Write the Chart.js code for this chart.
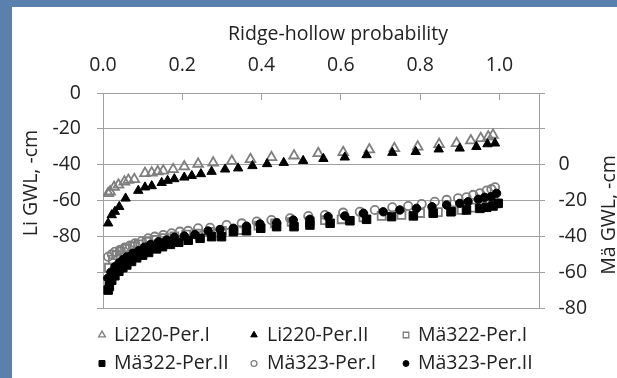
<!DOCTYPE html>
<html><head><meta charset="utf-8">
<script src="https://cdn.jsdelivr.net/npm/chart.js@4.4.1/dist/chart.umd.min.js"></script>
<style>
html,body{margin:0;padding:0;}
body{width:617px;height:378px;overflow:hidden;background:#5a80ae;position:relative;}
#panel{position:absolute;left:12px;top:7px;width:605px;height:371px;background:#fff;}
canvas{display:block;}
</style></head><body><div id="panel"><canvas id="c" width="605" height="371"></canvas></div>
<script>
// ---- data ----
const seriesNames = ['Li220-Per.I','Li220-Per.II','Mä322-Per.I','Mä322-Per.II','Mä323-Per.I','Mä323-Per.II'];

const li220P1x = [0.013,0.018,0.028,0.039,0.054,0.064,0.079,0.106,0.123,0.138,0.152,0.177,0.205,0.240,0.278,0.325,0.372,0.425,0.482,0.543,0.606,0.672,0.735,0.794,0.848,0.892,0.928,0.953,0.972,0.984];
const li220P1y = [-56.0,-55.1,-52.5,-51.3,-49.5,-48.6,-48.2,-44.8,-44.5,-43.9,-43.4,-42.6,-41.1,-39.6,-38.9,-38.0,-37.0,-35.9,-35.0,-33.7,-33.1,-31.6,-30.9,-30.0,-28.6,-28.1,-26.6,-25.3,-24.4,-23.4];

const li220P2x = [0.013,0.022,0.030,0.041,0.057,0.089,0.106,0.123,0.148,0.163,0.180,0.205,0.224,0.247,0.274,0.308,0.341,0.377,0.414,0.456,0.505,0.556,0.610,0.665,0.730,0.789,0.847,0.900,0.942,0.970,0.989];
const li220P2y = [-72.7,-68.1,-66.2,-63.5,-58.8,-54.5,-52.6,-51.9,-50.1,-48.9,-48.0,-47.1,-46.2,-45.2,-43.9,-42.6,-42.0,-40.7,-39.6,-38.9,-37.8,-36.7,-35.9,-34.6,-33.3,-32.8,-31.4,-30.9,-30.0,-28.5,-28.1];

const ma322P1x = [0.015,0.025,0.035,0.045,0.060,0.075,0.090,0.110,0.130,0.155,0.180,0.210,0.240,0.270,0.300,0.350,0.392,0.434,0.476,0.522,0.560,0.602,0.657,0.703,0.753,0.800,0.845,0.880,0.905,0.930,0.955,0.975,0.990];
const ma322P1y = [-57.5,-53.0,-50.5,-48.5,-47.0,-45.5,-44.5,-43.0,-42.0,-41.0,-40.0,-39.0,-38.5,-37.5,-37.0,-36.5,-34.0,-32.8,-32.0,-31.8,-31.0,-30.5,-29.4,-28.6,-28.1,-27.0,-26.5,-25.5,-25.3,-24.0,-23.0,-22.3,-21.6];

const ma322P2x = [0.013,0.016,0.022,0.030,0.040,0.050,0.060,0.072,0.085,0.100,0.115,0.135,0.150,0.170,0.191,0.215,0.245,0.274,0.299,0.329,0.362,0.398,0.438,0.482,0.522,0.573,0.623,0.665,0.728,0.783,0.833,0.878,0.917,0.951,0.968,0.984,0.997];
const ma322P2y = [-70.0,-68.0,-64.5,-62.0,-59.5,-57.5,-56.0,-54.0,-52.0,-50.5,-49.0,-47.0,-45.8,-44.5,-43.3,-42.2,-41.1,-40.2,-40.2,-37.4,-36.9,-35.5,-34.6,-34.6,-33.7,-32.7,-31.3,-30.5,-29.0,-28.6,-27.1,-26.3,-25.3,-24.4,-23.8,-23.1,-21.6];

const ma323P1x = [0.013,0.022,0.030,0.043,0.055,0.068,0.081,0.098,0.114,0.131,0.152,0.173,0.194,0.215,0.240,0.270,0.312,0.350,0.388,0.425,0.472,0.518,0.560,0.606,0.648,0.686,0.730,0.770,0.804,0.837,0.867,0.896,0.917,0.934,0.951,0.968,0.980,0.989];
const ma323P1y = [-51.4,-50.0,-48.6,-47.6,-46.3,-45.2,-43.9,-42.6,-41.1,-40.2,-39.3,-38.3,-37.4,-37.0,-35.5,-35.2,-33.7,-32.8,-31.8,-30.9,-29.9,-28.7,-28.1,-26.8,-26.3,-25.3,-23.8,-23.1,-22.0,-20.7,-19.7,-18.8,-18.2,-16.9,-16.0,-14.5,-13.7,-12.6];

const ma323P2x = [0.012,0.020,0.030,0.040,0.050,0.060,0.075,0.090,0.105,0.120,0.140,0.160,0.180,0.205,0.232,0.265,0.295,0.329,0.362,0.396,0.438,0.480,0.522,0.568,0.610,0.657,0.707,0.749,0.791,0.830,0.867,0.900,0.921,0.947,0.963,0.979,0.993];
const ma323P2y = [-63.4,-60.0,-57.0,-55.0,-53.0,-51.5,-49.5,-48.0,-46.0,-44.5,-43.0,-42.0,-40.5,-39.8,-39.0,-37.0,-36.2,-35.5,-34.3,-33.1,-32.4,-30.9,-30.5,-29.0,-28.6,-27.1,-26.3,-25.3,-24.4,-23.5,-22.5,-21.6,-20.7,-19.3,-18.2,-17.9,-16.0];

const xTicks = [0.0,0.2,0.4,0.6,0.8,1.0];
const liTicks = [0,-20,-40,-60,-80];
const maTicks = [0,-20,-40,-60,-80];

const xTitle = 'Ridge-hollow probability';
const liTitle = 'Li GWL, -cm';
const maTitle = 'Mä GWL, -cm';

// ---- styling ----
const FONT = '"Open Sans", "Liberation Sans", sans-serif';
const FS = 19.5;
const TXT = '#222222';
const GRID = '#a0a0a0';
const GREY = '#7f7f7f';

function pts(xs, ys){ return xs.map((x,i)=>({x:x, y:ys[i]})); }

const styles = [
  {pointStyle:'triangle', r:5.6, fill:'rgba(0,0,0,0)', stroke:GREY, lw:1.8, axis:'y'},
  {pointStyle:'triangle', r:5.4, fill:'#000', stroke:'#000', lw:1, axis:'y'},
  {pointStyle:'rect',     r:5.6, fill:'rgba(0,0,0,0)', stroke:GREY, lw:1.8, axis:'y2'},
  {pointStyle:'rect',     r:6.0, fill:'#000', stroke:'#000', lw:1, axis:'y2'},
  {pointStyle:'circle',   r:4.2, fill:'rgba(0,0,0,0)', stroke:GREY, lw:1.8, axis:'y2'},
  {pointStyle:'circle',   r:4.2, fill:'#000', stroke:'#000', lw:1, axis:'y2'}
];
const seriesData = [pts(li220P1x,li220P1y), pts(li220P2x,li220P2y), pts(ma322P1x,ma322P1y),
                    pts(ma322P2x,ma322P2y), pts(ma323P1x,ma323P1y), pts(ma323P2x,ma323P2y)];

const datasets = seriesNames.map((name,i)=>({
  label:name, data:seriesData[i], yAxisID:styles[i].axis,
  pointStyle:styles[i].pointStyle, pointRadius:styles[i].r,
  pointBackgroundColor:styles[i].fill, pointBorderColor:styles[i].stroke,
  pointBorderWidth:styles[i].lw, showLine:false, order:6-i
}));

function drawMarker(ctx, s, x, y, scale){
  ctx.save();
  ctx.lineWidth = Math.min(s.lw, 1.3);
  ctx.strokeStyle = s.stroke;
  ctx.fillStyle = s.fill;
  const r = s.r*scale;
  ctx.beginPath();
  if (s.pointStyle==='triangle'){
    ctx.moveTo(x, y - r);
    ctx.lineTo(x + r*Math.sin(2*Math.PI/3), y - r*Math.cos(2*Math.PI/3));
    ctx.lineTo(x + r*Math.sin(4*Math.PI/3), y - r*Math.cos(4*Math.PI/3));
    ctx.closePath();
  } else if (s.pointStyle==='rect'){
    const h = r*Math.SQRT1_2;
    ctx.rect(x-h, y-h, 2*h, 2*h);
  } else {
    ctx.arc(x, y, r, 0, Math.PI*2);
  }
  ctx.fill();
  ctx.stroke();
  ctx.restore();
}

// legend layout (canvas coords)
const legendCols = [{mx:90, tx:102},{mx:242, tx:255},{mx:394, tx:406}];
const legendRows = [327, 355.5];

const extras = {
  id:'extras',
  afterDraw(chart){
    const ctx = chart.ctx;
    ctx.save();
    ctx.fillStyle = TXT;
    ctx.font = FS + 'px ' + FONT;
    ctx.textAlign = 'center';
    ctx.textBaseline = 'middle';
    ctx.fillText(xTitle, 326, 27);
    ctx.save();
    ctx.translate(25, 176);
    ctx.rotate(-Math.PI/2);
    ctx.textBaseline = 'alphabetic';
    ctx.fillText(liTitle, 0, 0);
    ctx.restore();
    ctx.save();
    ctx.translate(603, 208);
    ctx.rotate(-Math.PI/2);
    ctx.textBaseline = 'alphabetic';
    ctx.fillText(maTitle, 0, 0);
    ctx.restore();
    ctx.textAlign = 'left';
    ctx.textBaseline = 'middle';
    seriesNames.forEach((name,i)=>{
      const row = Math.floor(i/3), col = i%3;
      const c = legendCols[col], y = legendRows[row];
      drawMarker(ctx, styles[i], c.mx, y+1, 0.7);
      ctx.fillStyle = TXT;
      ctx.fillText(name, c.tx, y+1);
    });
    ctx.restore();
  }
};

new Chart(document.getElementById('c'), {
  type:'scatter',
  data:{datasets:datasets},
  options:{
    responsive:false, animation:false, devicePixelRatio:1,
    layout:{padding:{left:0,right:0,top:0,bottom:70}},
    plugins:{legend:{display:false}, tooltip:{enabled:false}},
    scales:{
      x:{type:'linear', position:'top', min:0, max:1.1,
        afterBuildTicks(s){ s.ticks = xTicks.map(v=>({value:v})).concat([{value:1.1}]); },
        ticks:{callback:(v)=> xTicks.some(t=>Math.abs(t-v)<1e-6) ? Number(v).toFixed(1) : '',
               font:{family:FONT,size:FS}, color:TXT, padding:23, maxRotation:0, autoSkip:false},
        grid:{drawOnChartArea:false, drawTicks:true, tickLength:-7, color:GRID},
        border:{display:true, color:GRID},
        afterFit(s){ s.height = 86; }
      },
      y:{type:'linear', position:'left', min:-120, max:0,
        ticks:{stepSize:20, callback:(v)=> liTicks.includes(v) ? String(v) : '',
               font:{family:FONT,size:FS}, color:TXT, padding:16, autoSkip:false},
        grid:{color:GRID, tickLength:6},
        border:{display:true, color:GRID},
        afterFit(s){ s.width = 91; }
      },
      y2:{type:'linear', position:'right', min:-80, max:40,
        ticks:{stepSize:20, callback:(v)=> maTicks.includes(v) ? String(v) : '',
               font:{family:FONT,size:FS}, color:TXT, padding:13.5, autoSkip:false},
        grid:{drawOnChartArea:false, color:GRID, tickLength:6},
        border:{display:true, color:GRID},
        afterFit(s){ s.width = 78; }
      }
    }
  },
  plugins:[extras]
});
</script></body></html>
